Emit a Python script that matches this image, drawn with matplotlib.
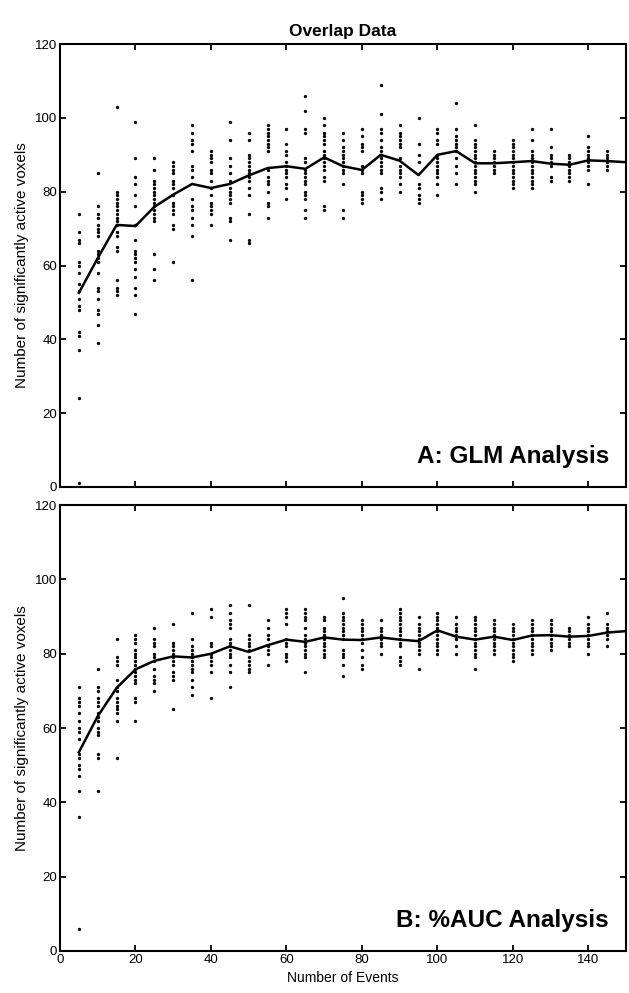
import matplotlib
matplotlib.use("Agg")
import matplotlib.pyplot as plt

plt.rcParams["font.family"] = ["Liberation Sans", "DejaVu Sans"]

# x positions (number of events)
events = [5, 10, 15, 20, 25, 30, 35, 40, 45, 50, 55, 60, 65, 70, 75,
          80, 85, 90, 95, 100, 105, 110, 115, 120, 125, 130, 135, 140, 145, 150]

# --- A: GLM analysis, individual runs per event count
glm_dots = [
    [74, 69, 67, 66, 61, 60, 58, 55, 53, 51, 49, 48, 42, 41, 37, 24, 1],
    [85, 76, 74, 73, 71, 70, 69, 68, 64, 63, 62, 61, 58, 54, 53, 51, 48, 47, 44, 39],
    [103, 80, 79, 78, 77, 76, 75, 74, 73, 72, 71, 69, 68, 65, 64, 56, 54, 53, 52],
    [99, 89, 84, 82, 79, 76, 71, 67, 64, 63, 62, 61, 59, 57, 54, 52, 47],
    [89, 86, 83, 82, 81, 80, 79, 78, 77, 76, 75, 74, 73, 72, 63, 59, 56],
    [88, 87, 86, 85, 83, 82, 81, 79, 77, 76, 75, 74, 71, 70, 61],
    [98, 96, 94, 93, 91, 87, 86, 84, 78, 76, 75, 73, 71, 68, 56],
    [91, 90, 89, 88, 86, 85, 83, 81, 79, 77, 76, 75, 74, 71],
    [99, 94, 89, 87, 85, 83, 81, 80, 79, 78, 77, 73, 72, 67],
    [96, 94, 90, 89, 88, 87, 86, 85, 84, 83, 81, 79, 74, 67, 66],
    [98, 97, 96, 95, 94, 93, 92, 91, 86, 84, 83, 82, 80, 77, 76, 73],
    [97, 93, 91, 90, 88, 87, 86, 85, 84, 82, 81, 78],
    [106, 102, 97, 96, 89, 88, 86, 85, 84, 83, 82, 80, 79, 78, 75, 73],
    [100, 98, 96, 95, 94, 93, 91, 90, 89, 88, 87, 86, 84, 83, 76, 75],
    [96, 94, 92, 91, 90, 89, 88, 87, 86, 85, 82, 75, 73],
    [97, 95, 93, 92, 91, 87, 86, 85, 80, 79, 78, 77],
    [109, 101, 97, 96, 94, 92, 91, 90, 89, 88, 87, 86, 85, 81, 80, 78],
    [98, 96, 95, 94, 93, 92, 89, 87, 86, 85, 84, 82, 80],
    [100, 93, 90, 88, 82, 81, 79, 78, 77],
    [97, 96, 94, 93, 90, 89, 88, 87, 86, 85, 84, 82, 79],
    [104, 97, 95, 94, 93, 92, 91, 89, 87, 85, 82],
    [98, 94, 93, 92, 91, 90, 89, 88, 87, 86, 85, 84, 83, 82, 80],
    [91, 90, 89, 88, 87, 86, 85],
    [94, 93, 92, 91, 90, 89, 88, 87, 86, 85, 84, 83, 82, 81],
    [97, 94, 91, 90, 89, 88, 87, 86, 85, 84, 83, 82, 81],
    [97, 92, 90, 89, 88, 87, 84, 83],
    [90, 89, 88, 87, 86, 85, 84, 83],
    [95, 92, 91, 90, 89, 88, 87, 86, 82],
    [91, 90, 89, 88, 87, 86],
    [],
]
glm_mean = [52.6, 62.0, 71.0, 70.7, 75.9, 79.2, 82.1, 81.0, 82.1, 84.4,
            86.4, 86.9, 86.2, 89.3, 86.9, 85.9, 90.0, 88.4, 84.5, 90.0,
            91.0, 87.7, 87.7, 88.0, 88.3, 87.6, 87.3, 88.5, 88.3, 88.0]

# --- B: %AUC analysis
auc_dots = [
    [71, 68, 67, 66, 64, 62, 60, 59, 57, 53, 52, 50, 49, 47, 43, 36, 6],
    [76, 71, 70, 68, 67, 66, 64, 63, 62, 60, 59, 58, 53, 52, 43],
    [84, 79, 78, 77, 73, 71, 70, 68, 67, 66, 65, 64, 62, 52],
    [85, 84, 83, 81, 80, 79, 78, 77, 76, 75, 74, 73, 72, 68, 67, 62],
    [87, 84, 83, 82, 80, 79, 78, 76, 74, 73, 72, 70],
    [88, 83, 82, 81, 80, 79, 78, 77, 75, 74, 73, 65],
    [91, 84, 82, 81, 80, 79, 78, 77, 76, 75, 73, 71, 69],
    [92, 90, 83, 82, 80, 79, 78, 77, 75, 68],
    [93, 91, 89, 88, 87, 84, 83, 82, 81, 80, 79, 77, 75, 71],
    [93, 85, 84, 83, 82, 81, 79, 78, 77, 76, 75],
    [89, 87, 85, 84, 82, 81, 80, 77],
    [92, 91, 90, 88, 84, 83, 82, 80, 79, 78],
    [92, 91, 90, 89, 87, 85, 84, 83, 82, 81, 80, 79, 75],
    [90, 89, 87, 86, 85, 84, 83, 82, 81, 80, 79],
    [95, 91, 90, 89, 88, 87, 86, 85, 84, 81, 80, 79, 77, 74],
    [89, 88, 87, 86, 85, 84, 83, 81, 79, 77, 76],
    [89, 87, 86, 85, 84, 83, 82, 80],
    [92, 91, 90, 89, 88, 87, 86, 85, 84, 83, 82, 79, 78, 77],
    [90, 88, 87, 86, 85, 84, 83, 82, 81, 80, 76],
    [91, 90, 89, 88, 87, 86, 85, 84, 83, 82, 81, 80],
    [90, 88, 87, 86, 85, 84, 82, 80],
    [90, 89, 88, 87, 86, 85, 84, 83, 82, 81, 80, 79, 76],
    [89, 88, 87, 86, 85, 84, 83, 82, 81, 80],
    [88, 87, 86, 85, 84, 83, 82, 81, 80, 79, 78],
    [89, 88, 87, 86, 85, 84, 83, 82, 81, 80],
    [89, 88, 87, 86, 85, 84, 83, 82, 81],
    [87, 86, 85, 84, 83, 82],
    [90, 88, 87, 86, 85, 84, 83, 82, 80],
    [91, 88, 87, 86, 85, 84, 82],
    [],
]
auc_mean = [53.5, 63.2, 70.8, 75.8, 78.1, 79.3, 79.0, 80.0, 82.0, 80.5,
            82.3, 83.8, 83.2, 84.4, 83.8, 83.7, 84.4, 83.8, 83.4, 86.3,
            84.6, 83.8, 84.6, 83.7, 84.9, 85.0, 84.6, 84.8, 85.7, 86.1]

x_ticks = [0, 20, 40, 60, 80, 100, 120, 140]
y_ticks = [0, 20, 40, 60, 80, 100, 120]

fig = plt.figure(figsize=(6.29, 9.93), dpi=100)
ax_a = fig.add_axes([0.0954, 0.5096, 0.9, 0.446])
ax_b = fig.add_axes([0.0954, 0.0423, 0.9, 0.449])


def draw_panel(ax, dots, mean, label):
    xs, ys = [], []
    for ev, col in zip(events, dots):
        xs += [ev] * len(col)
        ys += col
    ax.plot(xs, ys, "o", color="black", markersize=2.4, markeredgewidth=0)
    ax.plot(events, mean, color="black", linewidth=1.8)
    ax.set_xlim(0, 150)
    ax.set_ylim(0, 120)
    ax.set_xticks(x_ticks)
    ax.set_yticks(y_ticks)
    ax.tick_params(direction="in", top=True, right=True, length=4,
                   width=1.3, labelsize=9.5, pad=2)
    for s in ax.spines.values():
        s.set_linewidth(1.5)
    ax.set_ylabel("Number of significantly active voxels", fontsize=11, labelpad=4)
    ax.text(145.5, 6.5, label, ha="right", va="baseline",
            fontsize=17.5, fontweight="bold")


draw_panel(ax_a, glm_dots, glm_mean, "A: GLM Analysis")
draw_panel(ax_b, auc_dots, auc_mean, "B: %AUC Analysis")

ax_a.set_xticklabels([])
ax_a.set_title("Overlap Data", fontsize=12.5, fontweight="bold", pad=6)
ax_b.set_xlabel("Number of Events", fontsize=10, labelpad=4)

fig.savefig("out.png", dpi=100)
